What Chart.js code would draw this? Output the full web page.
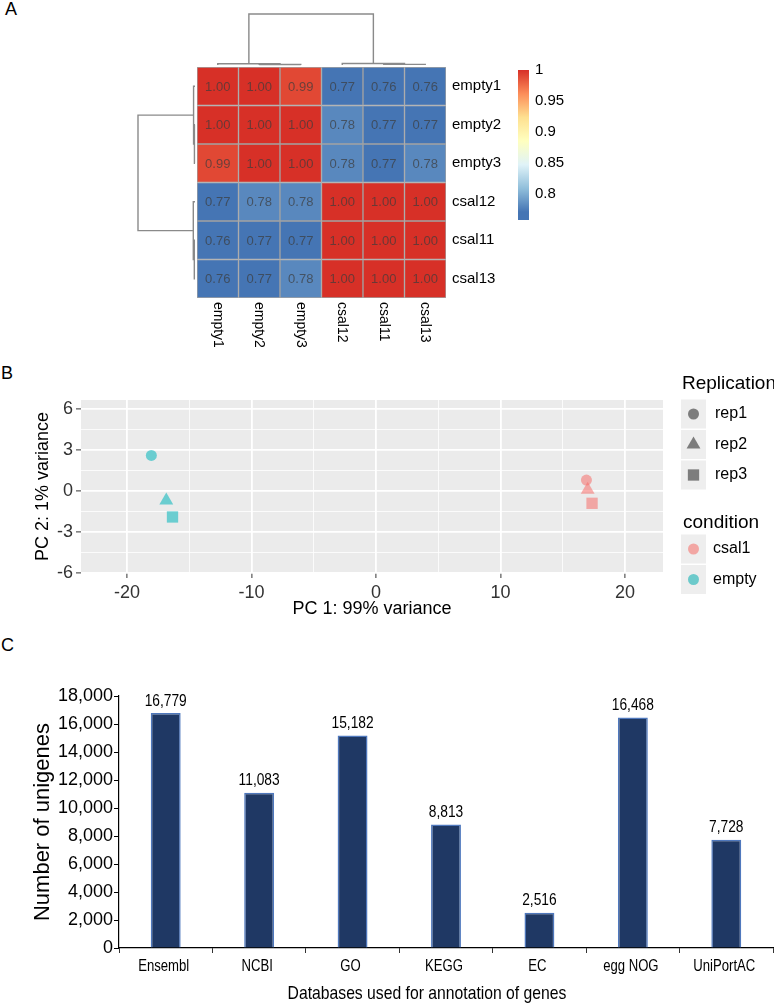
<!DOCTYPE html>
<html>
<head>
<meta charset="utf-8">
<script src="https://cdn.jsdelivr.net/npm/chart.js@4.4.1/dist/chart.umd.min.js"></script>
<style>
    body { margin: 0; background: #fff; }
    #wrap { position: relative; width: 774px; height: 1005px; overflow: hidden; font-family: 'Liberation Sans', Arial, sans-serif; }
    canvas { position: absolute; }
    .tag { position: absolute; font-size: 18px; line-height: 18px; color: #000; }
</style>
</head>
<body>
<div id="wrap">
    <div class="tag" style="left:5px;top:0px">A</div>
    <div class="tag" style="left:1px;top:364px">B</div>
    <div class="tag" style="left:1px;top:636px">C</div>
    <canvas id="heat" width="512" height="360" style="left:0;top:0"></canvas>
    <canvas id="scale" width="80" height="180" style="left:500px;top:55px"></canvas>
    <canvas id="pca" width="774" height="260" style="left:0;top:360px"></canvas>
    <canvas id="bars" width="774" height="345" style="left:0;top:660px"></canvas>
</div>
<script>
// ---- Data ----
// A: sample correlation heatmap
const hmCols = ['empty1', 'empty2', 'empty3', 'csal12', 'csal11', 'csal13'];
const hmRows = ['empty1', 'empty2', 'empty3', 'csal12', 'csal11', 'csal13'];
const corr = [
    [1.00, 1.00, 0.99, 0.77, 0.76, 0.76],
    [1.00, 1.00, 1.00, 0.78, 0.77, 0.77],
    [0.99, 1.00, 1.00, 0.78, 0.77, 0.78],
    [0.77, 0.78, 0.78, 1.00, 1.00, 1.00],
    [0.76, 0.77, 0.77, 1.00, 1.00, 1.00],
    [0.76, 0.77, 0.78, 1.00, 1.00, 1.00]
];
// hclust-style merges (negative = leaf, positive = earlier merge) and heights
const colMerge = [[-2, -3], [-5, -6], [-1, 1], [-4, 2], [3, 4]];
const colHeight = [0.01, 0.012, 0.025, 0.03, 1];
const rowMerge = [[-2, -3], [-5, -6], [-1, 1], [-4, 2], [3, 4]];
const rowHeight = [0.01, 0.012, 0.025, 0.03, 1];
const scaleMin = 0.757;
const scaleMax = 1.0;
const colorLow = 0.77;   // where the blue end of the palette starts
const scaleTicks = [0.8, 0.85, 0.9, 0.95, 1];

// B: PCA
const pcaReps = ['rep1', 'rep2', 'rep3'];
const pcaConditions = ['csal1', 'empty'];
const csalPC1 = [16.9, 17.0, 17.35];
const csalPC2 = [0.8, 0.1, -0.9];
const emptyPC1 = [-18.05, -16.85, -16.35];
const emptyPC2 = [2.6, -0.7, -1.9];

// C: annotation counts
const dbNames = ['Ensembl', 'NCBI', 'GO', 'KEGG', 'EC', 'egg NOG', 'UniPortAC'];
const dbCounts = [16779, 11083, 15182, 8813, 2516, 16468, 7728];

// ---- Styles ----
const SANS = "'Liberation Sans', Arial, sans-serif";
const palette = ['#4575B4', '#91BFDB', '#E0F3F8', '#FFFFBF', '#FEE090', '#FC8D59', '#D73027'];
const shapeOf = { rep1: 'circle', rep2: 'triangle', rep3: 'rect' };
const radiusOf = { circle: 5.5, triangle: 8, rect: 8 };
const condFill = { csal1: 'rgba(245,110,105,0.55)', empty: 'rgba(0,180,185,0.55)' };
const condKey = { csal1: '#f2a6a3', empty: '#6ccacb' };

Chart.defaults.animation = false;
Chart.defaults.font.family = SANS;
Chart.defaults.color = '#000';

function hexToRgb(h) {
    const n = parseInt(h.slice(1), 16);
    return [(n >> 16) & 255, (n >> 8) & 255, n & 255];
}

function colorFor(v) {
    let t = (v - colorLow) / (scaleMax - colorLow);
    t = Math.max(0, Math.min(1, t));
    const seg = t * (palette.length - 1);
    const i = Math.min(Math.floor(seg), palette.length - 2);
    const f = seg - i;
    const a = hexToRgb(palette[i]), b = hexToRgb(palette[i + 1]);
    const c = a.map((x, k) => Math.round(x + (b[k] - x) * f));
    return `rgb(${c[0]},${c[1]},${c[2]})`;
}

// condensed text, drawn by squeezing the regular face horizontally
function narrowText(ctx, text, x, y, size, sx) {
    ctx.save();
    ctx.font = `${size}px ${SANS}`;
    ctx.translate(x, y);
    ctx.scale(sx, 1);
    ctx.fillText(text, 0, 0);
    ctx.restore();
}

function drawTree(ctx, merge, heights, leafPix, toXY) {
    const pos = [], hgt = [];
    const node = k => k < 0 ? [leafPix(-k - 1), 0] : [pos[k - 1], hgt[k - 1]];
    ctx.save();
    ctx.strokeStyle = '#8a8a8a';
    ctx.lineWidth = 1.4;
    merge.forEach(([a, b], k) => {
        const [pa, ha] = node(a);
        const [pb, hb] = node(b);
        const h = heights[k];
        ctx.beginPath();
        ctx.moveTo(...toXY(pa, ha));
        ctx.lineTo(...toXY(pa, h));
        ctx.lineTo(...toXY(pb, h));
        ctx.lineTo(...toXY(pb, hb));
        ctx.stroke();
        pos.push((pa + pb) / 2);
        hgt.push(h);
    });
    ctx.restore();
}

// ---- A: heatmap ----
const heatExtras = {
    id: 'heatExtras',
    afterDatasetsDraw(chart) {
        const ctx = chart.ctx;
        ctx.save();
        ctx.font = `13px ${SANS}`;
        ctx.fillStyle = 'rgba(60,60,60,0.7)';
        ctx.textAlign = 'center';
        ctx.textBaseline = 'middle';
        chart.data.datasets.forEach((ds, i) => {
            chart.getDatasetMeta(i).data.forEach((bar, j) => {
                ctx.fillText(corr[i][j].toFixed(2), bar.x, (bar.y + bar.base) / 2 + 1);
            });
        });
        ctx.restore();
    },
    afterDraw(chart) {
        const { ctx, chartArea, scales } = chart;
        ctx.save();
        ctx.font = `14px ${SANS}`;
        ctx.fillStyle = '#000';
        ctx.textAlign = 'left';
        ctx.textBaseline = 'middle';
        hmCols.forEach((c, i) => {
            ctx.save();
            ctx.translate(scales.x.getPixelForValue(i), chartArea.bottom + 4);
            ctx.rotate(Math.PI / 2);
            ctx.fillText(c, 0, 0);
            ctx.restore();
        });
        ctx.restore();
        drawTree(ctx, colMerge, colHeight, i => scales.x.getPixelForValue(i),
            (p, h) => [p, chartArea.top - 2 - h * 51]);
        drawTree(ctx, rowMerge, rowHeight, i => scales.y2.getPixelForValue(i),
            (p, h) => [chartArea.left - 2 - h * 57, p]);
    }
};

new Chart(document.getElementById('heat'), {
    type: 'bar',
    data: {
        labels: hmCols,
        datasets: hmRows.map((r, i) => ({
            label: r,
            data: hmCols.map(() => 1),
            backgroundColor: corr[i].map(colorFor),
            borderColor: '#a3a3a3',
            borderWidth: 1,
            borderSkipped: false,
            barPercentage: 1,
            categoryPercentage: 1
        }))
    },
    options: {
        responsive: false,
        layout: { padding: { left: 197, top: 67, right: 0, bottom: 62 } },
        plugins: { legend: { display: false }, tooltip: { enabled: false } },
        scales: {
            x: { stacked: true, display: false },
            y: { stacked: true, display: false, min: 0, max: 6, reverse: true },
            y2: {
                type: 'category',
                labels: hmRows,
                position: 'right',
                offset: true,
                grid: { display: false, drawTicks: false },
                border: { display: false },
                ticks: { font: { size: 15 }, color: '#000', padding: 6 },
                afterFit: s => { s.width = 66; }
            }
        }
    },
    plugins: [heatExtras]
});

// colour key
new Chart(document.getElementById('scale'), {
    type: 'bar',
    data: {
        labels: ['key'],
        datasets: [{
            data: [[scaleMin, scaleMax]],
            backgroundColor: c => {
                const a = c.chart.chartArea;
                if (!a) return palette[0];
                const g = c.chart.ctx.createLinearGradient(0, a.bottom, 0, a.top);
                const start = (colorLow - scaleMin) / (scaleMax - scaleMin);
                g.addColorStop(0, palette[0]);
                palette.forEach((col, i) => g.addColorStop(start + (1 - start) * i / (palette.length - 1), col));
                return g;
            },
            borderWidth: 0,
            barPercentage: 1,
            categoryPercentage: 1
        }]
    },
    options: {
        responsive: false,
        layout: { padding: { left: 18, top: 15, right: 0, bottom: 12 } },
        plugins: { legend: { display: false }, tooltip: { enabled: false } },
        scales: {
            x: { display: false },
            y: {
                position: 'right',
                min: scaleMin,
                max: scaleMax,
                afterBuildTicks: s => { s.ticks = scaleTicks.map(v => ({ value: v })); },
                grid: { display: false, drawTicks: false },
                border: { display: false },
                ticks: { font: { size: 15 }, color: '#000', padding: 6, callback: v => String(v) },
                afterFit: s => { s.width = 51; }
            }
        }
    }
});

// ---- B: PCA ----
const pcaExtras = {
    id: 'pcaExtras',
    beforeDraw(chart) {
        const { ctx, chartArea: a } = chart;
        ctx.save();
        ctx.fillStyle = '#EBEBEB';
        ctx.fillRect(a.left, a.top, a.right - a.left, a.bottom - a.top);
        ctx.restore();
    },
    afterDraw(chart) {
        const { ctx, chartArea: a } = chart;
        const x0 = a.right + 18;
        const drawKey = (cy, style, fill) => {
            ctx.fillStyle = '#EEEEEE';
            ctx.fillRect(x0, cy - 14.5, 25, 29);
            ctx.fillStyle = fill;
            Chart.helpers.drawPoint(ctx, { pointStyle: style, radius: radiusOf[style], rotation: 0, borderWidth: 0 }, x0 + 12.5, cy);
        };
        ctx.save();
        ctx.textAlign = 'left';
        ctx.textBaseline = 'middle';
        ctx.fillStyle = '#000';
        ctx.font = `19px ${SANS}`;
        ctx.fillText('Replication', x0 + 1, 24);
        ctx.fillText('condition', x0 + 2, 163);
        pcaReps.forEach((r, i) => {
            const cy = 54 + i * 30.5;
            drawKey(cy, shapeOf[r], '#7d7d7d');
            ctx.fillStyle = '#000';
            ctx.font = `16px ${SANS}`;
            ctx.fillText(r, x0 + 34, cy);
        });
        pcaConditions.forEach((c, i) => {
            const cy = 189 + i * 30.5;
            drawKey(cy, 'circle', condKey[c]);
            ctx.fillStyle = '#000';
            ctx.font = `16px ${SANS}`;
            ctx.fillText(c, x0 + 32, cy);
        });
        ctx.restore();
    }
};

const toPts = (xs, ys) => xs.map((x, i) => ({ x, y: ys[i] }));
const repStyles = pcaReps.map(r => shapeOf[r]);

new Chart(document.getElementById('pca'), {
    type: 'scatter',
    data: {
        datasets: [
            {
                label: 'csal1',
                data: toPts(csalPC1, csalPC2),
                backgroundColor: condFill.csal1,
                borderWidth: 0,
                pointStyle: repStyles,
                pointRadius: repStyles.map(s => radiusOf[s])
            },
            {
                label: 'empty',
                data: toPts(emptyPC1, emptyPC2),
                backgroundColor: condFill.empty,
                borderWidth: 0,
                pointStyle: repStyles,
                pointRadius: repStyles.map(s => radiusOf[s])
            }
        ]
    },
    options: {
        responsive: false,
        layout: { padding: { left: 0, top: 40, right: 111, bottom: 0 } },
        plugins: { legend: { display: false }, tooltip: { enabled: false } },
        scales: {
            x: {
                min: -23.7,
                max: 23.05,
                ticks: {
                    stepSize: 5, includeBounds: false, autoSkip: false, maxRotation: 0,
                    font: { size: 18 }, color: '#333', padding: 4,
                    callback: v => (v % 10 === 0 ? v : '')
                },
                grid: {
                    color: '#fff',
                    lineWidth: c => (c.tick && c.tick.value % 10 === 0 ? 1.8 : 0.8),
                    tickColor: c => (c.tick && c.tick.value % 10 === 0 ? '#333' : 'rgba(0,0,0,0)'),
                    tickLength: 5,
                    tickWidth: 1
                },
                border: { display: false },
                title: { display: true, text: 'PC 1: 99% variance', font: { size: 18 }, color: '#000', padding: { top: 0, bottom: 0 } },
                afterFit: s => { s.height = 47; }
            },
            y: {
                min: -6,
                max: 6.66,
                ticks: {
                    stepSize: 1.5, includeBounds: false, autoSkip: false,
                    font: { size: 18 }, color: '#333', padding: 3,
                    callback: v => (v % 3 === 0 ? v : '')
                },
                grid: {
                    color: '#fff',
                    lineWidth: c => (c.tick && c.tick.value % 3 === 0 ? 1.8 : 0.8),
                    tickColor: c => (c.tick && c.tick.value % 3 === 0 ? '#333' : 'rgba(0,0,0,0)'),
                    tickLength: 5,
                    tickWidth: 1
                },
                border: { display: false },
                title: { display: true, text: 'PC 2: 1% variance', font: { size: 18 }, color: '#000', padding: { top: 32, bottom: 0 } },
                afterFit: s => { s.width = 81; }
            }
        }
    },
    plugins: [pcaExtras]
});

// ---- C: bar chart ----
const barText = {
    id: 'barText',
    afterDraw(chart) {
        const { ctx, scales } = chart;
        ctx.save();
        ctx.fillStyle = '#000';
        ctx.textAlign = 'center';
        // value labels
        ctx.textBaseline = 'bottom';
        chart.getDatasetMeta(0).data.forEach((bar, i) => {
            narrowText(ctx, dbCounts[i].toLocaleString('en-US'), bar.x, bar.y - 4, 16, 0.86);
        });
        // category labels and axis title
        ctx.textBaseline = 'middle';
        dbNames.forEach((n, i) => {
            narrowText(ctx, n, scales.x.getPixelForValue(i) - 2, scales.x.top + 19, 16, 0.82);
        });
        narrowText(ctx, 'Databases used for annotation of genes', 427, scales.x.bottom - 11, 18.5, 0.85);
        ctx.restore();
    }
};

new Chart(document.getElementById('bars'), {
    type: 'bar',
    data: {
        labels: dbNames,
        datasets: [{
            data: dbCounts,
            backgroundColor: '#1f3864',
            borderColor: '#4f78bd',
            borderWidth: 1.5,
            borderSkipped: 'bottom',
            barPercentage: 0.32,
            categoryPercentage: 1
        }]
    },
    options: {
        responsive: false,
        layout: { padding: { left: 0, top: 36, right: 1, bottom: 0 } },
        plugins: { legend: { display: false }, tooltip: { enabled: false } },
        scales: {
            x: {
                grid: { offset: true, drawOnChartArea: false, tickLength: 5, tickColor: '#333' },
                border: { color: '#000', width: 1.2 },
                ticks: { display: false },
                afterFit: s => { s.height = 57; }
            },
            y: {
                min: 0,
                max: 18000,
                ticks: {
                    stepSize: 2000, font: { size: 18 }, color: '#000', padding: 1,
                    callback: v => v.toLocaleString('en-US')
                },
                grid: { drawOnChartArea: false, tickLength: 5, tickColor: '#000' },
                border: { color: '#000', width: 1.2 },
                title: { display: true, text: 'Number of unigenes', font: { size: 22 }, color: '#000', padding: { top: 30, bottom: 0 } },
                afterFit: s => { s.width = 119; }
            }
        }
    },
    plugins: [barText]
});
</script>
</body>
</html>
